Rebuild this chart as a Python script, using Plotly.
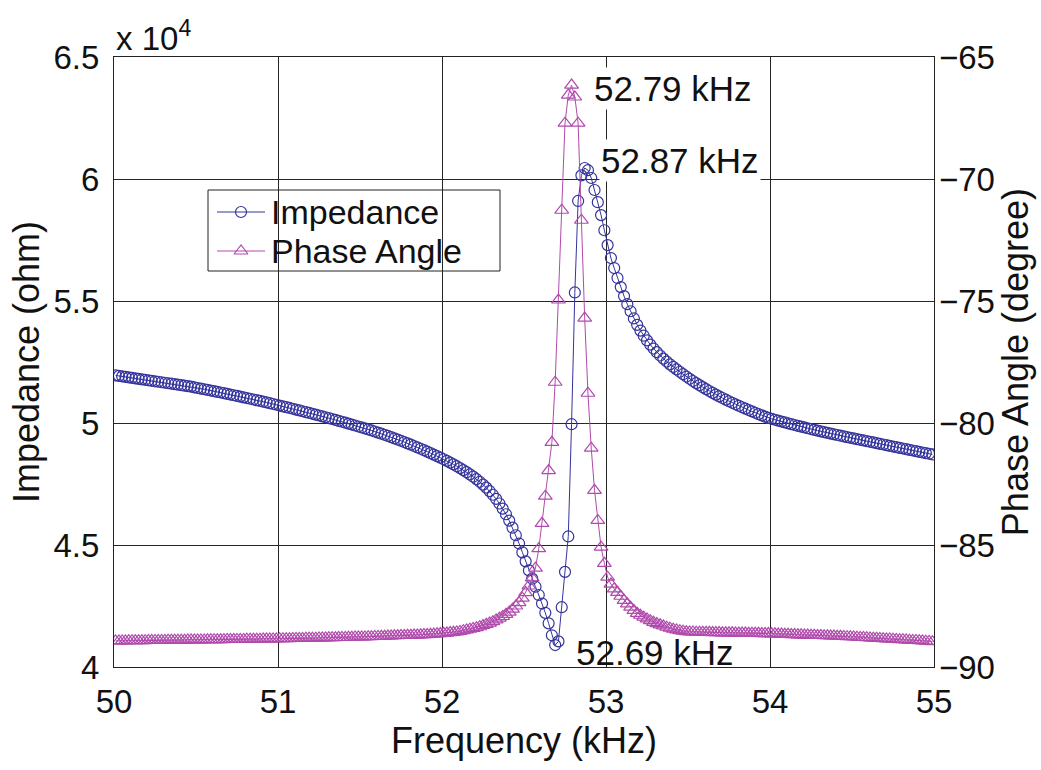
import plotly.graph_objects as go

freq_khz = [
    50.01, 50.03, 50.05, 50.07, 50.09, 50.11, 50.13, 50.15, 50.17, 50.19,
    50.21, 50.23, 50.25, 50.27, 50.29, 50.31, 50.33, 50.35, 50.37, 50.39,
    50.41, 50.43, 50.45, 50.47, 50.49, 50.51, 50.53, 50.55, 50.57, 50.59,
    50.61, 50.63, 50.65, 50.67, 50.69, 50.71, 50.73, 50.75, 50.77, 50.79,
    50.81, 50.83, 50.85, 50.87, 50.89, 50.91, 50.93, 50.95, 50.97, 50.99,
    51.01, 51.03, 51.05, 51.07, 51.09, 51.11, 51.13, 51.15, 51.17, 51.19,
    51.21, 51.23, 51.25, 51.27, 51.29, 51.31, 51.33, 51.35, 51.37, 51.39,
    51.41, 51.43, 51.45, 51.47, 51.49, 51.51, 51.53, 51.55, 51.57, 51.59,
    51.61, 51.63, 51.65, 51.67, 51.69, 51.71, 51.73, 51.75, 51.77, 51.79,
    51.81, 51.83, 51.85, 51.87, 51.89, 51.91, 51.93, 51.95, 51.97, 51.99,
    52.01, 52.03, 52.05, 52.07, 52.09, 52.11, 52.13, 52.15, 52.17, 52.19,
    52.21, 52.23, 52.25, 52.27, 52.29, 52.31, 52.33, 52.35, 52.37, 52.39,
    52.41, 52.43, 52.45, 52.47, 52.49, 52.51, 52.53, 52.55, 52.57, 52.59,
    52.61, 52.63, 52.65, 52.67, 52.69, 52.71, 52.73, 52.75, 52.77, 52.79,
    52.81, 52.83, 52.85, 52.87, 52.89, 52.91, 52.93, 52.95, 52.97, 52.99,
    53.01, 53.03, 53.05, 53.07, 53.09, 53.11, 53.13, 53.15, 53.17, 53.19,
    53.21, 53.23, 53.25, 53.27, 53.29, 53.31, 53.33, 53.35, 53.37, 53.39,
    53.41, 53.43, 53.45, 53.47, 53.49, 53.51, 53.53, 53.55, 53.57, 53.59,
    53.61, 53.63, 53.65, 53.67, 53.69, 53.71, 53.73, 53.75, 53.77, 53.79,
    53.81, 53.83, 53.85, 53.87, 53.89, 53.91, 53.93, 53.95, 53.97, 53.99,
    54.01, 54.03, 54.05, 54.07, 54.09, 54.11, 54.13, 54.15, 54.17, 54.19,
    54.21, 54.23, 54.25, 54.27, 54.29, 54.31, 54.33, 54.35, 54.37, 54.39,
    54.41, 54.43, 54.45, 54.47, 54.49, 54.51, 54.53, 54.55, 54.57, 54.59,
    54.61, 54.63, 54.65, 54.67, 54.69, 54.71, 54.73, 54.75, 54.77, 54.79,
    54.81, 54.83, 54.85, 54.87, 54.89, 54.91, 54.93, 54.95, 54.97, 54.99,
]

impedance_ohm = [
    51950, 51930, 51910, 51890, 51870, 51850, 51830, 51810, 51790, 51770,
    51750, 51730, 51710, 51690, 51670, 51650, 51630, 51610, 51590, 51570,
    51550, 51530, 51510, 51490, 51460, 51435, 51409, 51383, 51357, 51330,
    51303, 51276, 51249, 51222, 51194, 51166, 51138, 51110, 51081, 51052,
    51023, 50994, 50964, 50934, 50904, 50873, 50842, 50811, 50779, 50747,
    50715, 50683, 50650, 50617, 50584, 50550, 50516, 50482, 50448, 50413,
    50378, 50343, 50308, 50272, 50236, 50200, 50163, 50126, 50089, 50051,
    50013, 49975, 49936, 49897, 49857, 49817, 49777, 49736, 49694, 49651,
    49607, 49562, 49516, 49469, 49421, 49372, 49322, 49271, 49219, 49166,
    49112, 49057, 49001, 48944, 48886, 48827, 48767, 48706, 48644, 48581,
    48515, 48447, 48377, 48305, 48230, 48152, 48070, 47985, 47895, 47800,
    47700, 47590, 47475, 47350, 47210, 47060, 46890, 46700, 46490, 46260,
    46000, 45710, 45400, 45060, 44700, 44330, 43960, 43620, 43290, 42950,
    42600, 42220, 41790, 41300, 40900, 41050, 42450, 43900, 45350, 49950,
    55350, 59100, 60150, 60450, 60360, 60040, 59550, 59050, 58520, 57900,
    57290, 56760, 56350, 55940, 55570, 55200, 54870, 54580, 54284, 54022,
    53788, 53577, 53385, 53211, 53051, 52903, 52766, 52638, 52518, 52405,
    52298, 52197, 52100, 52000, 51904, 51811, 51721, 51634, 51550, 51468,
    51389, 51312, 51237, 51164, 51093, 51024, 50957, 50892, 50828, 50766,
    50705, 50646, 50588, 50531, 50475, 50420, 50366, 50313, 50261, 50210,
    50172, 50134, 50097, 50060, 50024, 49988, 49953, 49918, 49884, 49850,
    49817, 49784, 49752, 49720, 49689, 49658, 49627, 49597, 49567, 49537,
    49508, 49479, 49450, 49422, 49394, 49366, 49338, 49311, 49284, 49257,
    49230, 49202, 49174, 49146, 49118, 49090, 49062, 49035, 49008, 48981,
    48954, 48927, 48900, 48873, 48846, 48819, 48792, 48766, 48740, 48714,
]

phase_deg = [
    -88.93, -88.93, -88.93, -88.93, -88.92, -88.92, -88.92, -88.92, -88.92, -88.92,
    -88.91, -88.91, -88.91, -88.91, -88.91, -88.91, -88.90, -88.90, -88.90, -88.90,
    -88.90, -88.90, -88.89, -88.89, -88.89, -88.89, -88.89, -88.89, -88.88, -88.88,
    -88.88, -88.88, -88.88, -88.88, -88.87, -88.87, -88.87, -88.87, -88.87, -88.87,
    -88.86, -88.86, -88.86, -88.86, -88.86, -88.85, -88.85, -88.85, -88.85, -88.85,
    -88.84, -88.84, -88.84, -88.84, -88.83, -88.83, -88.83, -88.83, -88.82, -88.82,
    -88.82, -88.82, -88.81, -88.81, -88.81, -88.80, -88.80, -88.80, -88.79, -88.79,
    -88.79, -88.78, -88.78, -88.77, -88.77, -88.77, -88.77, -88.76, -88.76, -88.75,
    -88.75, -88.74, -88.74, -88.73, -88.73, -88.72, -88.72, -88.71, -88.71, -88.70,
    -88.70, -88.69, -88.69, -88.68, -88.67, -88.67, -88.66, -88.65, -88.64, -88.63,
    -88.62, -88.61, -88.59, -88.58, -88.56, -88.54, -88.51, -88.48, -88.45, -88.42,
    -88.39, -88.35, -88.30, -88.25, -88.20, -88.14, -88.07, -88.00, -87.93, -87.84,
    -87.75, -87.63, -87.50, -87.36, -87.18, -86.95, -86.68, -86.35, -85.95, -85.15,
    -84.11, -83.00, -81.95, -80.79, -78.33, -74.96, -71.28, -67.71, -66.56, -66.15,
    -66.64, -67.71, -71.69, -75.70, -78.78, -81.03, -82.76, -83.99, -85.09, -85.75,
    -86.32, -86.60, -86.80, -86.94, -87.10, -87.27, -87.41, -87.55, -87.68, -87.80,
    -87.88, -87.96, -88.03, -88.10, -88.17, -88.22, -88.27, -88.32, -88.37, -88.41,
    -88.45, -88.48, -88.51, -88.53, -88.55, -88.56, -88.56, -88.57, -88.57, -88.58,
    -88.58, -88.58, -88.59, -88.59, -88.59, -88.60, -88.60, -88.60, -88.60, -88.61,
    -88.61, -88.61, -88.61, -88.62, -88.62, -88.62, -88.62, -88.63, -88.63, -88.63,
    -88.64, -88.64, -88.65, -88.65, -88.66, -88.66, -88.67, -88.67, -88.68, -88.68,
    -88.69, -88.69, -88.70, -88.70, -88.71, -88.71, -88.72, -88.72, -88.73, -88.73,
    -88.74, -88.74, -88.75, -88.76, -88.76, -88.77, -88.78, -88.79, -88.79, -88.80,
    -88.81, -88.82, -88.82, -88.83, -88.84, -88.85, -88.85, -88.86, -88.87, -88.88,
    -88.88, -88.89, -88.90, -88.91, -88.91, -88.92, -88.93, -88.94, -88.95, -88.96,
]

x_ticks = [50, 51, 52, 53, 54, 55]
imp_ticks = [40000, 45000, 50000, 55000, 60000, 65000]
imp_tick_text = ["4", "4.5", "5", "5.5", "6", "6.5"]
phase_ticks = [-90, -85, -80, -75, -70, -65]

series_names = ["Impedance", "Phase Angle"]

peak_labels = [
    # (frequency, value, axis, text)
    (52.79, -66.15, "y2", "52.79 kHz"),
    (52.87, 60450, "y", "52.87 kHz"),
    (52.69, 40900, "y", "52.69 kHz"),
]

FONT = "Liberation Sans, Arial, Helvetica, sans-serif"
FS_TICK = 33
FS_TITLE = 36
FS_ANN = 35
FS_LEG = 34
IMP_COLOR = "#34349c"
PH_COLOR = "#b04aac"
GRID = "#262626"
TXT = "#111"

# plot area in pixels (for the hand-made legend)
L, R, T, B = 114, 934, 57, 667


def px_to_paper(xp, yp):
    return (xp - L) / (R - L), (B - yp) / (B - T)


fig = go.Figure()
imp_marker = dict(symbol="circle-open", size=11, color=IMP_COLOR, line=dict(width=1.2, color=IMP_COLOR))
ph_marker = dict(symbol="triangle-up-open", size=12, color=PH_COLOR, line=dict(width=1.2, color=PH_COLOR))

fig.add_trace(go.Scatter(
    x=freq_khz, y=impedance_ohm, name=series_names[0], mode="lines+markers",
    line=dict(color=IMP_COLOR, width=1), marker=imp_marker, yaxis="y",
))
fig.add_trace(go.Scatter(
    x=freq_khz, y=phase_deg, name=series_names[1], mode="lines+markers",
    line=dict(color=PH_COLOR, width=1), marker=ph_marker, yaxis="y2",
))

# ---- hand-made legend (MATLAB style box) on a hidden overlay axis in paper units
shapes = []
bx0, by0 = px_to_paper(208, 190)
bx1, by1 = px_to_paper(500, 271)
shapes.append(dict(type="rect", xref="paper", yref="paper", x0=bx0, x1=bx1, y0=by1, y1=by0,
                   fillcolor="white", line=dict(color="#222", width=1), layer="between"))

annotations = []
rows_y = [212, 251]
for name, ypx, color, mk in zip(series_names, rows_y, [IMP_COLOR, PH_COLOR], [imp_marker, ph_marker]):
    xa, ya = px_to_paper(217, ypx)
    xb, _ = px_to_paper(265, ypx)
    xm, _ = px_to_paper(241, ypx)
    fig.add_trace(go.Scatter(x=[xa, xb], y=[ya, ya], mode="lines", line=dict(color=color, width=1),
                             xaxis="x3", yaxis="y3", showlegend=False, hoverinfo="skip"))
    fig.add_trace(go.Scatter(x=[xm], y=[ya], mode="markers", marker=mk,
                             xaxis="x3", yaxis="y3", showlegend=False, hoverinfo="skip"))
    xt, _ = px_to_paper(269, ypx)
    annotations.append(dict(x=xt, y=ya, xref="paper", yref="paper", text=name, showarrow=False,
                            xanchor="left", yanchor="middle",
                            font=dict(family=FONT, size=FS_LEG, color=TXT)))

shifts = {
    "52.79 kHz": (20, -3, "rgba(255,255,255,1)"),
    "52.87 kHz": (14, 8, "rgba(255,255,255,1)"),
    "52.69 kHz": (19, -7, "rgba(0,0,0,0)"),
}
for f, v, ax, txt in peak_labels:
    dx, dy, bg = shifts[txt]
    annotations.append(dict(
        x=f, y=v, xref="x", yref=ax, text=txt, showarrow=False,
        xanchor="left", yanchor="middle", xshift=dx, yshift=dy,
        bgcolor=bg, font=dict(family=FONT, size=FS_ANN, color=TXT),
    ))
annotations.append(dict(
    x=0, y=1, xref="paper", yref="paper", text="x 10<sup>4</sup>",
    showarrow=False, xanchor="left", yanchor="bottom", yshift=-2,
    font=dict(family=FONT, size=FS_TICK, color=TXT),
))

fig.update_layout(
    width=1041, height=770,
    margin=dict(l=L, r=1041 - R, t=T, b=770 - B),
    paper_bgcolor="white", plot_bgcolor="white",
    font=dict(family=FONT, size=FS_TICK, color=TXT),
    showlegend=False,
    xaxis=dict(
        range=[50, 55], tickvals=x_ticks, showgrid=True, gridcolor=GRID, gridwidth=1,
        showline=True, mirror=True, linecolor="#222", linewidth=1,
        zeroline=False, ticks="", ticklabelstandoff=5,
        tickfont=dict(family=FONT, size=FS_TICK, color=TXT),
        title=dict(text="Frequency (kHz)", font=dict(family=FONT, size=FS_TITLE, color=TXT), standoff=4),
    ),
    yaxis=dict(
        range=[40000, 65000], tickvals=imp_ticks, ticktext=imp_tick_text,
        showgrid=True, gridcolor=GRID, gridwidth=1,
        showline=True, mirror=True, linecolor="#222", linewidth=1,
        zeroline=False, ticks="", ticklabelstandoff=7,
        tickfont=dict(family=FONT, size=FS_TICK, color=TXT),
        title=dict(text="Impedance (ohm)", font=dict(family=FONT, size=FS_TITLE, color=TXT), standoff=2),
    ),
    yaxis2=dict(
        range=[-90, -65], tickvals=phase_ticks, overlaying="y", side="right",
        showgrid=False, showline=False, zeroline=False, ticks="", ticklabelstandoff=4,
        tickfont=dict(family=FONT, size=FS_TICK, color=TXT),
        title=dict(text="Phase Angle (degree)", font=dict(family=FONT, size=FS_TITLE, color=TXT), standoff=4),
    ),
    xaxis3=dict(range=[0, 1], overlaying="x", visible=False, fixedrange=True),
    yaxis3=dict(range=[0, 1], overlaying="y", anchor="x3", visible=False, fixedrange=True),
    shapes=shapes,
    annotations=annotations,
)

fig.write_html("out.html")
